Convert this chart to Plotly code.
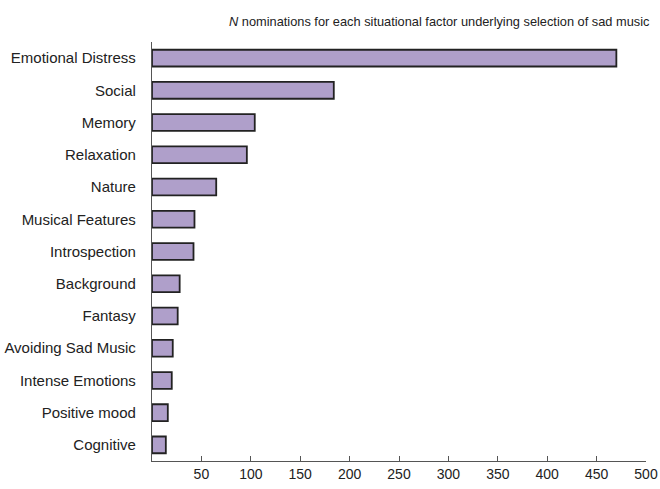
import plotly.graph_objects as go

categories = ["Emotional Distress", "Social", "Memory", "Relaxation", "Nature",
              "Musical Features", "Introspection", "Background", "Fantasy",
              "Avoiding Sad Music", "Intense Emotions", "Positive mood", "Cognitive"]
values = [470, 184, 104, 96, 65, 43, 42, 28, 26, 21, 20, 16, 14]
tick_values = [50, 100, 150, 200, 250, 300, 350, 400, 450, 500]
tick_labels = [str(v) for v in tick_values]
title_text = "<i>N</i> nominations for each situational factor underlying selection of sad music"

fig = go.Figure(go.Bar(
    y=categories, x=values, orientation="h", width=0.52,
    marker=dict(color="#AF9FCA", line=dict(color="#222222", width=1.8)),
))

fig.update_layout(
    width=660, height=489,
    margin=dict(l=152, r=14, t=42, b=28),
    paper_bgcolor="white", plot_bgcolor="white",
    font=dict(family="Liberation Sans, Arial, sans-serif", size=14, color="#222222"),
    showlegend=False,
    annotations=[dict(text=title_text, xref="paper", yref="paper", x=1.012, y=1.0,
                      xanchor="right", yanchor="bottom", yshift=11, showarrow=False,
                      font=dict(size=12.8, color="#222222"))],
)
fig.update_xaxes(range=[0, 500], tickvals=tick_values, ticktext=tick_labels,
                 showgrid=False, zeroline=False, showline=True, linecolor="#555555",
                 linewidth=1.3, ticks="inside", ticklen=5, tickcolor="#555555",
                 tickfont=dict(size=14), automargin=False)
fig.update_yaxes(autorange="reversed", showgrid=False,
                 showline=True, linecolor="#555555", linewidth=1.3, ticks="",
                 ticklabelstandoff=12, tickfont=dict(size=15), automargin=False)

fig.write_html("out.html", config={"displayModeBar": False},
               post_script="document.body.style.margin='0';document.body.style.overflow='hidden';")
